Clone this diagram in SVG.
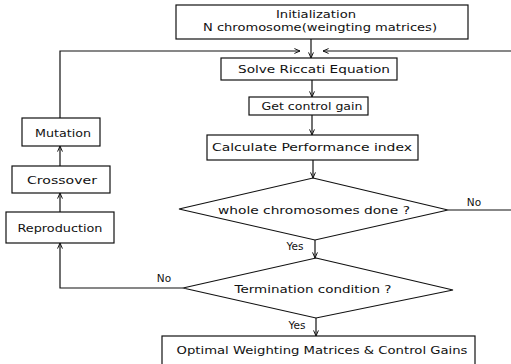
<svg xmlns="http://www.w3.org/2000/svg" width="511" height="364" viewBox="0 0 511 364">
<defs>
<style>
.box{fill:#fff;stroke:#111;stroke-width:1.2}
.ln{fill:none;stroke:#111;stroke-width:1.2}
text{font-family:"DejaVu Sans","Liberation Sans",sans-serif;font-size:10.5px;fill:#111}
.c{text-anchor:middle}
</style>
<marker id="ah" viewBox="0 0 10 10" refX="9" refY="5" markerWidth="7" markerHeight="7" orient="auto" markerUnits="userSpaceOnUse">
<path d="M1,1.5 L9,5 L1,8.5" fill="none" stroke="#111" stroke-width="1.4"/>
</marker>
</defs>
<rect width="511" height="364" fill="#fff"/>
<g id="connectors">
<path class="ln" d="M311,39 V58" marker-end="url(#ah)"/>
<path class="ln" d="M60,118 V51 H300" marker-end="url(#ah)"/>
<path class="ln" d="M511,51 H323" marker-end="url(#ah)"/>
<path class="ln" d="M312,80 V97" marker-end="url(#ah)"/>
<path class="ln" d="M312,115 V135" marker-end="url(#ah)"/>
<path class="ln" d="M313,160 V178" marker-end="url(#ah)"/>
<path class="ln" d="M448,210 H511"/>
<path class="ln" d="M315,240 V258" marker-end="url(#ah)"/>
<path class="ln" d="M183,288 H60 V243" marker-end="url(#ah)"/>
<path class="ln" d="M60,212 V193" marker-end="url(#ah)"/>
<path class="ln" d="M60,166 V146" marker-end="url(#ah)"/>
<path class="ln" d="M316,318 V336" marker-end="url(#ah)"/>
<text x="474" y="206" class="c">No</text>
<text x="164" y="282" class="c">No</text>
<text x="295" y="250" class="c">Yes</text>
<text x="297" y="329" class="c">Yes</text>
</g>
<g id="init">
<rect class="box" x="176" y="5" width="292" height="34"/>
<text x="316" y="18" class="c" textLength="80" lengthAdjust="spacingAndGlyphs">Initialization</text>
<text x="320" y="31" class="c" textLength="234" lengthAdjust="spacingAndGlyphs">N chromosome(weingting matrices)</text>
</g>
<g id="riccati">
<rect class="box" x="221" y="58" width="176" height="22"/>
<text x="314" y="73" class="c" textLength="152" lengthAdjust="spacingAndGlyphs">Solve Riccati Equation</text>
</g>
<g id="gain">
<rect class="box" x="249" y="97" width="119" height="18"/>
<text x="312" y="110" class="c" textLength="101" lengthAdjust="spacingAndGlyphs">Get control gain</text>
</g>
<g id="perf">
<rect class="box" x="207" y="135" width="211" height="25"/>
<text x="312" y="151" class="c" textLength="200" lengthAdjust="spacingAndGlyphs">Calculate Performance index</text>
</g>
<g id="whole">
<polygon class="box" points="313,178 448,210 315,240 179,209"/>
<text x="314" y="214" class="c" textLength="192" lengthAdjust="spacingAndGlyphs">whole chromosomes done ?</text>
</g>
<g id="term">
<polygon class="box" points="316,258 453,290 316,318 183,288"/>
<text x="313" y="293" class="c" textLength="157" lengthAdjust="spacingAndGlyphs">Termination condition ?</text>
</g>
<g id="optimal">
<rect class="box" x="162" y="336" width="313" height="34"/>
<text x="322" y="354" class="c" textLength="291" lengthAdjust="spacingAndGlyphs">Optimal Weighting Matrices &amp; Control Gains</text>
</g>
<g id="mutation">
<rect class="box" x="22" y="118" width="78" height="28"/>
<text x="63" y="137" class="c" textLength="56" lengthAdjust="spacingAndGlyphs">Mutation</text>
</g>
<g id="crossover">
<rect class="box" x="12" y="166" width="98" height="27"/>
<text x="62" y="184" class="c" textLength="70" lengthAdjust="spacingAndGlyphs">Crossover</text>
</g>
<g id="reproduction">
<rect class="box" x="6" y="212" width="108" height="31"/>
<text x="60" y="232" class="c" textLength="85" lengthAdjust="spacingAndGlyphs">Reproduction</text>
</g>
</svg>
